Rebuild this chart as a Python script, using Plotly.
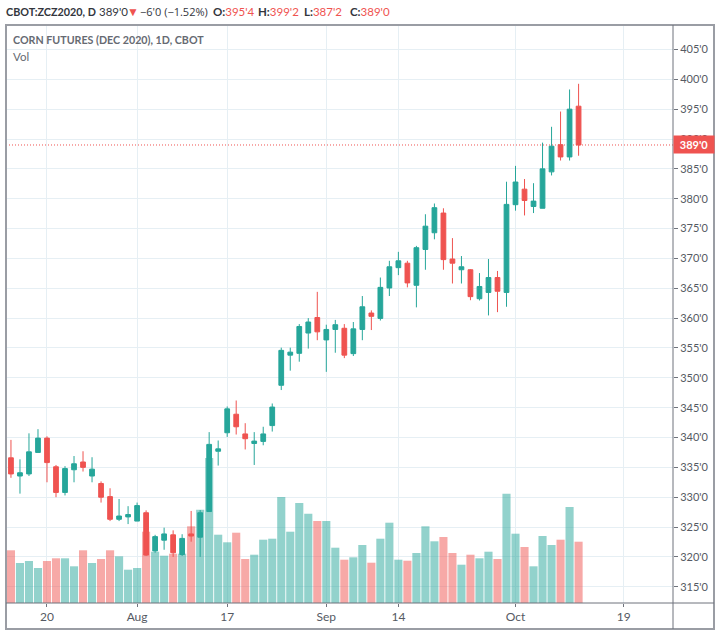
import plotly.graph_objects as go

dates = ["2020-07-14","2020-07-15","2020-07-16","2020-07-17","2020-07-20","2020-07-21","2020-07-22","2020-07-23","2020-07-24",
"2020-07-27","2020-07-28","2020-07-29","2020-07-30","2020-07-31","2020-08-03","2020-08-04","2020-08-05","2020-08-06","2020-08-07",
"2020-08-10","2020-08-11","2020-08-12","2020-08-13","2020-08-14","2020-08-17","2020-08-18","2020-08-19","2020-08-20","2020-08-21",
"2020-08-24","2020-08-25","2020-08-26","2020-08-27","2020-08-28","2020-08-31","2020-09-01","2020-09-02","2020-09-03","2020-09-04",
"2020-09-08","2020-09-09","2020-09-10","2020-09-11","2020-09-14","2020-09-15","2020-09-16","2020-09-17","2020-09-18",
"2020-09-21","2020-09-22","2020-09-23","2020-09-24","2020-09-25","2020-09-28","2020-09-29","2020-09-30","2020-10-01","2020-10-02",
"2020-10-05","2020-10-06","2020-10-07","2020-10-08","2020-10-09","2020-10-12"]
future_dates = ["2020-10-13","2020-10-14","2020-10-15","2020-10-16","2020-10-19","2020-10-20","2020-10-21","2020-10-22","2020-10-23",
"2020-10-26","2020-10-27","2020-10-28","2020-10-29","2020-10-30"]

opens = [336.6,333.55,333.9,337.5,339.9,335.1,330.8,334.6,335.9,333.55,332.3,330.1,326.3,326.7,326.0,327.4,321.0,322.8,323.7,320.4,
323.85,323.3,327.6,337.7,340.8,343.9,340.6,339.0,339.35,342.0,348.75,353.8,354.1,357.5,360.1,356.35,358.1,358.3,354.05,358.1,
360.85,359.95,365.05,368.45,369.2,365.5,371.5,374.3,377.6,369.9,368.1,368.1,363.25,364.3,366.8,364.3,379.0,381.6,378.7,378.4,
384.5,389.05,387.0,395.5]
highs = [339.6,336.35,340.7,341.4,340.2,335.4,335.2,336.9,337.7,336.7,332.65,331.5,329.7,328.5,329.1,327.8,323.7,324.9,324.45,323.8,
327.7,327.85,340.9,339.5,345.2,346.2,342.4,340.9,341.8,345.7,355.05,355.05,359.0,360.0,364.4,358.9,359.7,359.0,359.35,363.7,
361.3,366.8,369.6,371.1,369.6,372.1,377.4,379.2,378.4,373.4,370.4,368.2,367.55,369.9,367.9,382.85,385.5,383.3,382.6,389.4,
392.05,394.6,398.3,399.25]
lows = [333.25,330.6,333.55,337.5,332.5,330.0,330.3,332.5,334.3,332.5,329.1,326.0,326.0,325.5,326.0,320.15,320.7,321.2,320.0,320.15,
322.55,320.0,327.6,335.3,340.1,340.5,338.0,335.4,338.7,341.0,347.95,351.2,352.7,354.9,356.3,351.0,354.2,353.3,353.65,356.3,
358.0,359.6,363.7,367.2,365.15,361.8,368.1,373.2,368.1,365.8,365.8,363.0,362.95,360.45,361.0,361.9,378.0,377.2,377.6,378.4,
383.9,386.4,386.4,387.2]
closes = [333.9,334.1,337.6,339.9,335.8,330.8,334.8,335.6,335.0,334.7,330.0,326.3,326.85,327.1,328.6,320.3,323.4,323.85,320.7,323.1,
323.5,327.4,338.85,338.1,344.8,341.8,339.8,339.4,340.6,345.1,354.6,354.3,358.6,359.35,357.7,358.1,358.9,353.8,358.2,361.9,
360.3,365.15,368.6,369.6,365.9,371.8,375.4,378.5,369.8,369.2,368.6,363.6,365.3,366.8,364.5,379.05,382.8,379.7,379.6,385.0,
388.8,387.0,395.0,389.0]
volumes = [52.7,40,42,35,42,44.7,44.7,36.7,52.7,40,44,52.7,46.7,33.3,35,71.3,51.3,47.3,49.3,49.3,
76.7,93.3,145,68.3,60.7,70.3,44,48.3,63.3,64.3,106,71.3,100,89.3,82,82,55.3,43.3,45.7,58,
40.3,64.3,80.3,43.3,42.3,50,76.7,61.7,66,50,38.3,48.3,44.7,51.3,44,109.3,69.3,56,36.7,67,
58,63.3,96,61.3]

price_ticks = [315,320,325,330,335,340,345,350,355,360,365,370,375,380,385,390,395,400,405]
price_labels = ["315'0","320'0","325'0","330'0","335'0","340'0","345'0","350'0","355'0","360'0","365'0","370'0","375'0","380'0","385'0","390'0","395'0","400'0","405'0"]
date_ticks = ["2020-07-20","2020-08-03","2020-08-17","2020-09-01","2020-09-14","2020-10-01","2020-10-19"]
date_labels = ["20","Aug","17","Sep","14","Oct","19"]

UP, DOWN = "#26a69a", "#ef5350"
GRID = "#e6eff4"
AXIS = "#6f737c"
TEXT = "#555a63"
FONT = "Lato"
W, H = 720, 635
L, R, T, B = 6, 673, 25, 603

vol_colors = ["rgba(38,166,154,0.5)" if c >= o else "rgba(239,83,80,0.5)" for o, c in zip(opens, closes)]

fig = go.Figure()
fig.add_trace(go.Bar(x=dates, y=volumes, marker=dict(color=vol_colors, line=dict(width=0)), yaxis="y", hoverinfo="skip"))
fig.add_trace(go.Candlestick(x=dates, open=opens, high=highs, low=lows, close=closes, yaxis="y2", whiskerwidth=0,
    increasing=dict(line=dict(color=UP, width=1), fillcolor=UP),
    decreasing=dict(line=dict(color=DOWN, width=1), fillcolor=DOWN)))

last_close = closes[-1]
shapes = [
    dict(type="line", xref="paper", yref="y2", x0=0, x1=1, y0=last_close, y1=last_close, layer="below",
         line=dict(color=DOWN, width=1, dash="1px,2px")),
    dict(type="rect", xref="paper", yref="paper", x0=0, x1=(714-L)/(R-L), y0=-(629-B)/(B-T), y1=1,
         line=dict(color="#9a9da4", width=2), fillcolor="rgba(0,0,0,0)"),
    dict(type="line", xref="paper", yref="paper", x0=1, x1=1, y0=-(629-B)/(B-T), y1=1, line=dict(color=AXIS, width=1)),
    dict(type="line", xref="paper", yref="paper", x0=0, x1=(714-L)/(R-L), y0=0, y1=0, line=dict(color=AXIS, width=1)),
]

def px_x(x): return (x - L) / (R - L)
def px_y(y): return (B - y) / (B - T)

def note(x, y, text, size, color, family=FONT):
    return dict(xref="paper", yref="paper", x=px_x(x), y=px_y(y), text=text, showarrow=False, xanchor="left", yanchor="middle",
                font=dict(family=family, size=size, color=color))

RED = "<span style='color:#ef5350'>%s</span>"
annotations = [
    note(4, 12, "<b>CBOT:ZCZ2020, D</b>", 10.8, "#33363d"),
    note(97, 12, "389'0", 11.5, "#33363d"),
    note(125, 12, RED % "▼", 12, "#33363d"),
    note(138, 12, "−6'0 (−1.52%)", 11, "#33363d", "Open Sans"),
    note(211, 12, "<b>O:</b>" + RED % "395'4", 11.5, "#33363d"),
    note(256, 12, "<b>H:</b>" + RED % "399'2", 11.5, "#33363d"),
    note(302, 12, "<b>L:</b>" + RED % "387'2", 11.5, "#33363d"),
    note(348, 12, "<b>C:</b>" + RED % "389'0", 11.5, "#33363d"),
    note(11, 40, "<b>CORN FUTURES (DEC 2020), 1D, CBOT</b>", 10.7, "#666a72"),
    note(11, 56, "Vol", 11.5, "#666a72"),
    dict(xref="paper", yref="y2", x=1, y=last_close, text="<b>389'0</b>", showarrow=False, xanchor="left", yanchor="middle",
         bgcolor=DOWN, borderpad=2, width=36, height=13, align="center", font=dict(family=FONT, size=11, color="#ffffff")),
]

fig.update_layout(
    width=W, height=H, autosize=False,
    margin=dict(l=L, r=W-R, t=T, b=H-B, pad=0),
    paper_bgcolor="#ffffff", plot_bgcolor="#ffffff",
    showlegend=False, bargap=0.1, boxgap=0.25,
    font=dict(family=FONT, size=11.5, color=TEXT),
    xaxis=dict(type="category", categoryorder="array", categoryarray=dates + future_dates,
               range=[-0.55, 73.48], rangeslider=dict(visible=False),
               tickmode="array", tickvals=date_ticks, ticktext=date_labels,
               showgrid=True, gridcolor=GRID, gridwidth=1, ticks="outside", ticklen=3, tickcolor=AXIS,
               tickfont=dict(family=FONT, size=12, color=TEXT), showline=False, zeroline=False),
    yaxis=dict(range=[0, B-T], showgrid=False, showticklabels=False, zeroline=False, showline=False, ticks=""),
    yaxis2=dict(overlaying="y", side="right", range=[312.28, 409.1], tickmode="array", tickvals=price_ticks, ticktext=price_labels,
                showgrid=True, gridcolor=GRID, gridwidth=1, ticks="outside", ticklen=4, tickcolor=AXIS,
                tickfont=dict(family=FONT, size=11, color=TEXT), zeroline=False, showline=False, layer="below traces"),
    shapes=shapes, annotations=annotations,
)
fig.write_html("out.html", config=dict(displayModeBar=False),
               post_script="document.body.style.margin='0';document.documentElement.style.overflow='hidden';")
